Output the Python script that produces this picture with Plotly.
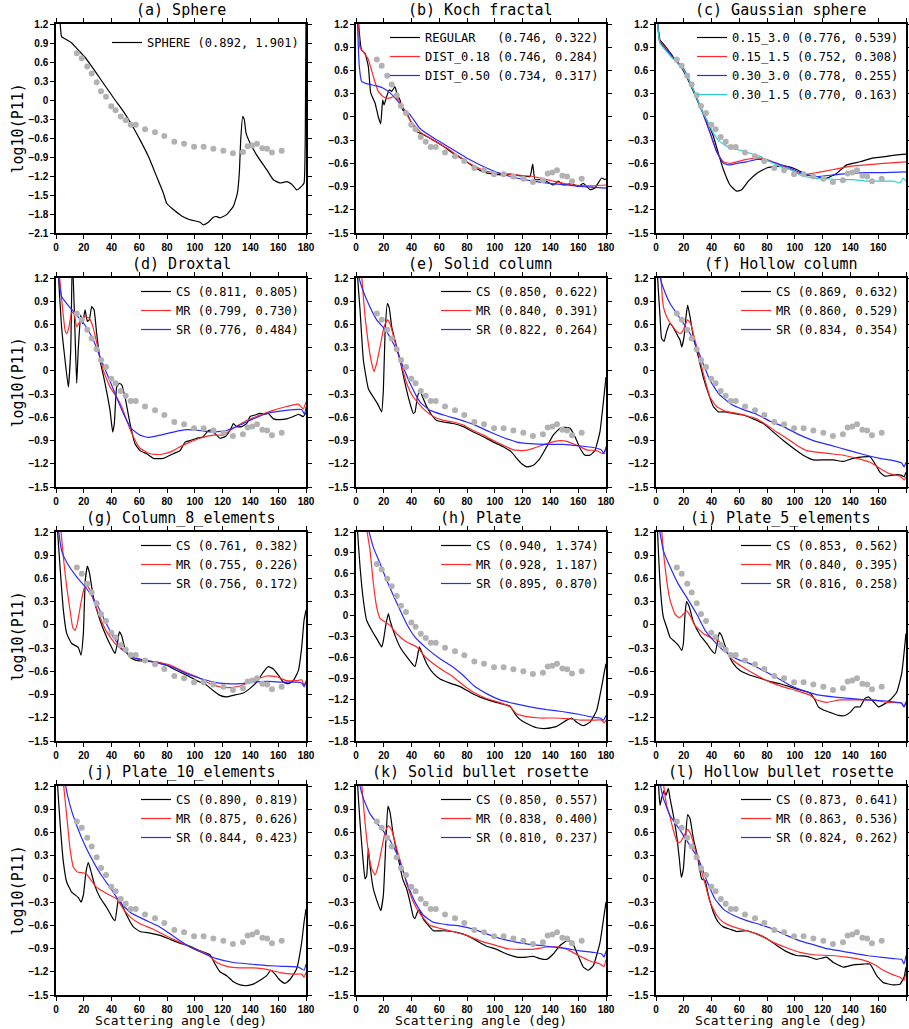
import plotly.graph_objects as go

# measured points (grey dots), identical in every panel
obs_angle = [15, 18.5, 22.5, 25.7, 29.3, 32.4, 36, 39.8, 42.9, 46.6, 50.2, 53.8, 57.4,
             64.1, 71.3, 78, 85.2, 92.2, 99.4, 106.3, 113.3, 120.5, 127.4, 134.6, 138,
             141.4, 144.7, 148.6, 152, 155.5, 162.5]
obs_logp11 = [0.74, 0.66, 0.53, 0.42, 0.28, 0.14, 0.05, -0.10, -0.16, -0.26, -0.32, -0.39,
              -0.39, -0.46, -0.51, -0.57, -0.66, -0.69, -0.74, -0.74, -0.77, -0.80, -0.84,
              -0.82, -0.73, -0.72, -0.69, -0.76, -0.77, -0.83, -0.80]

# model curves, (angle, log10 P11)
a_sphere = [(0.5, 1.6), (3, 1.2), (4, 1.0), (7.7, 0.95), (11.3, 0.9), (16, 0.79), (20.9, 0.675),
            (25.7, 0.53), (31.7, 0.34), (36.5, 0.19), (42.5, 0.0), (48.5, -0.18), (54.5, -0.39),
            (60.5, -0.63), (66.5, -0.89), (72.5, -1.21), (77.3, -1.47), (79.7, -1.63), (84.5, -1.73),
            (90.5, -1.83), (96.5, -1.89), (103.7, -1.93), (106, -1.97), (109.7, -1.93), (113.3, -1.85),
            (115.7, -1.84), (118, -1.86), (122.9, -1.81), (127.7, -1.68), (130.6, -1.47), (132, -1.15),
            (133, -0.63), (134.4, -0.26), (135.6, -0.31), (136.8, -0.52), (139.7, -0.68), (144.5, -0.87),
            (151.7, -1.1), (156.5, -1.26), (161.3, -1.31), (166, -1.29), (169.7, -1.33), (173.3, -1.42),
            (176.9, -1.36), (178.6, -1.31), (179.5, -0.52), (180, 1.3)]

b_regular = [(1, 1.6), (1.7, 1.25), (4, 0.865), (6.5, 0.82), (8.9, 0.65), (10.6, 0.31), (13.7, 0.18),
             (16, 0.005), (17.8, -0.09), (19.2, 0.22), (20.2, 0.155), (22, 0.26), (24, 0.35),
             (25.7, 0.33), (28, 0.39), (29.8, 0.28), (31.7, 0.22), (33.6, 0.09), (36.5, 0.05),
             (40, -0.08), (43.7, -0.19), (48.5, -0.23), (55.7, -0.30), (62.9, -0.38), (70, -0.47),
             (77.3, -0.55), (84.5, -0.64), (91.7, -0.71), (98.9, -0.74), (106, -0.75), (110.9, -0.74),
             (118, -0.76), (125.3, -0.77), (127.2, -0.61), (128.9, -0.81), (134.9, -0.81), (142, -0.88),
             (145.7, -0.83), (149.3, -0.88), (155.3, -0.86), (160, -0.9), (163.7, -0.86), (168.5, -0.94),
             (172, -0.92), (176.9, -0.79), (179.3, -0.81), (180, -0.80)]
b_dist018 = [(1.5, 1.6), (1.7, 1.25), (2.9, 0.89), (5.3, 0.84), (8.9, 0.74), (12.5, 0.52), (16, 0.33),
             (19.7, 0.26), (23.3, 0.24), (26.9, 0.26), (30.5, 0.22), (34, 0.11), (38.9, -0.04),
             (46, -0.19), (55.7, -0.30), (67.7, -0.43), (79.7, -0.58), (91.7, -0.69), (103.7, -0.73),
             (115.7, -0.75), (127.7, -0.77), (142, -0.83), (156.5, -0.88), (171, -0.89), (180, -0.88)]
b_dist050 = [(0.5, 1.6), (1, 1.25), (2.4, 0.65), (4, 0.46), (7.7, 0.43), (14.9, 0.40), (19.7, 0.37),
             (24.5, 0.31), (29.3, 0.22), (34, 0.11), (38.9, 0.03), (46, -0.15), (55.7, -0.27),
             (67.7, -0.40), (79.7, -0.53), (91.7, -0.64), (103.7, -0.73), (115.7, -0.79), (127.7, -0.83),
             (139.7, -0.86), (151.7, -0.88), (163.7, -0.90), (180, -0.92)]

c_015_30 = [(0.5, 1.6), (1, 1.25), (2.9, 0.99), (4, 0.97), (7.7, 0.89), (11.3, 0.80), (14.9, 0.71),
            (18.5, 0.63), (22, 0.52), (26.9, 0.33), (31.7, 0.13), (36.5, -0.04), (41.3, -0.25),
            (44.9, -0.47), (48.5, -0.68), (53.3, -0.88), (58.1, -0.96), (61.7, -0.94), (66.5, -0.83),
            (72.5, -0.73), (79.7, -0.66), (86.9, -0.64), (94, -0.64), (101.3, -0.68), (108.5, -0.75),
            (115.7, -0.77), (122.9, -0.79), (130, -0.73), (137.3, -0.62), (146.9, -0.58), (156.5, -0.53),
            (166, -0.51), (173.3, -0.49), (180, -0.48)]
c_015_15 = [(0.5, 1.6), (1, 1.25), (2.9, 0.97), (7.7, 0.87), (11.3, 0.78), (19.7, 0.63), (26.9, 0.35),
            (34, 0.03), (38.9, -0.21), (43.7, -0.45), (48.5, -0.58), (53.3, -0.60), (58.1, -0.58),
            (65.3, -0.55), (72.5, -0.53), (79.7, -0.55), (86.9, -0.60), (94, -0.66), (101.3, -0.72),
            (108.5, -0.74), (115.7, -0.72), (127.7, -0.68), (139.7, -0.64), (151.7, -0.62),
            (163.7, -0.60), (180, -0.58)]
c_030_30 = [(0.5, 1.6), (1, 1.25), (2.9, 0.96), (7.7, 0.86), (11.3, 0.78), (19.7, 0.62), (26.9, 0.35),
            (34, 0.04), (38.9, -0.20), (43.7, -0.45), (48.5, -0.60), (53.3, -0.62), (58.1, -0.60),
            (65.3, -0.58), (72.5, -0.55), (79.7, -0.56), (86.9, -0.60), (94, -0.64), (101.3, -0.70),
            (108.5, -0.75), (115.7, -0.77), (127.7, -0.75), (139.7, -0.73), (151.7, -0.72),
            (163.7, -0.72), (180, -0.71)]
c_030_15 = [(0.5, 1.6), (1, 1.25), (2.9, 0.95), (11.3, 0.77), (19.7, 0.61), (26.9, 0.35), (32.9, 0.09),
            (37.7, -0.08), (41.3, -0.21), (46, -0.32), (53.3, -0.40), (60.5, -0.43), (67.7, -0.47),
            (74.9, -0.51), (82.1, -0.58), (89.3, -0.64), (96.5, -0.68), (103.7, -0.75), (113.3, -0.79),
            (122.9, -0.80), (132.5, -0.81), (142, -0.81), (151.7, -0.83), (163.7, -0.83), (171, -0.83),
            (175.7, -0.85), (178, -0.79), (180, -0.83)]

d_cs = [(1, 1.6), (1.7, 1.25), (4, 0.57), (6.5, 0.14), (8.9, -0.21), (10.6, 0.27), (11.8, 1.5),
        (13.7, 0.48), (14.9, -0.16), (16, 0.27), (17.8, 0.72), (19.2, 0.61), (20.9, 0.79), (22.6, 0.64),
        (24, 0.66), (25.7, 0.83), (27.4, 0.79), (29.3, 0.48), (31.7, 0.14), (35.3, -0.16), (38.9, -0.51),
        (40.8, -0.79), (42, -0.68), (43.7, -0.21), (45.6, -0.16), (47.3, -0.18), (49.7, -0.34),
        (53.3, -0.68), (56.9, -0.94), (60.5, -1.03), (65.3, -1.07), (70, -1.13), (77.3, -1.13),
        (84.5, -1.07), (89.3, -1.03), (92.9, -0.92), (96.5, -0.90), (101.3, -0.87), (106, -0.85),
        (109.7, -0.77), (112, -0.77), (114.5, -0.81), (118, -0.87), (121.7, -0.85), (125.3, -0.77),
        (127.7, -0.68), (130, -0.72), (133.7, -0.72), (137.3, -0.68), (139.7, -0.59), (143.3, -0.57),
        (146.9, -0.55), (150.5, -0.56), (152.9, -0.55), (156.5, -0.62), (161.3, -0.63), (166, -0.62),
        (170.9, -0.59), (174.5, -0.56), (178, -0.59), (180, -0.54)]
d_mr = [(1.5, 1.6), (2.4, 1.25), (4.8, 0.79), (6.5, 0.53), (7.7, 0.48), (9.4, 0.57), (11.3, 0.76),
        (13, 0.74), (14.9, 0.57), (17.3, 0.64), (20.9, 0.70), (24, 0.68), (26.9, 0.55), (30.5, 0.27),
        (34, 0.01), (38.9, -0.21), (43.7, -0.34), (47.3, -0.46), (50.9, -0.64), (55.7, -0.85),
        (60.5, -1.0), (67.7, -1.07), (74.9, -1.08), (82.1, -1.05), (89.3, -0.98), (96.5, -0.92),
        (103.7, -0.87), (113.3, -0.83), (120.5, -0.83), (127.7, -0.74), (137.3, -0.64), (146.9, -0.57),
        (156.5, -0.51), (166, -0.46), (174.5, -0.43), (178, -0.49), (180, -0.40)]
d_sr = [(1, 1.6), (1.7, 1.25), (4, 0.96), (7.7, 0.87), (14.9, 0.72), (20.9, 0.59), (26.9, 0.40),
        (31.7, 0.18), (36.5, -0.03), (42.5, -0.29), (48.5, -0.55), (54.5, -0.75), (60.5, -0.83),
        (66.5, -0.86), (74.9, -0.83), (84.5, -0.79), (94, -0.76), (103.7, -0.77), (113.3, -0.79),
        (122.9, -0.77), (132.5, -0.70), (142, -0.62), (151.7, -0.55), (161.3, -0.52), (170.9, -0.50),
        (176.9, -0.50), (179, -0.56), (180, -0.46)]

e_cs = [(0.5, 1.6), (1, 1.25), (2.9, 0.79), (5.3, 0.14), (8.9, -0.23), (12.5, -0.34), (15.4, -0.42),
        (17.3, -0.49), (18.5, -0.53), (19.7, -0.25), (20.9, 0.48), (22.6, 0.87), (24, 0.81), (25.7, 0.57),
        (28, 0.40), (31.7, 0.14), (35.3, -0.16), (38.9, -0.42), (41.3, -0.55), (42.5, -0.53),
        (44.2, -0.34), (46, -0.25), (48, -0.34), (50.9, -0.46), (54.5, -0.57), (58.1, -0.64),
        (62.9, -0.66), (70, -0.68), (77.3, -0.72), (84.5, -0.79), (91.7, -0.85), (98.9, -0.92),
        (106, -0.98), (112, -1.05), (115.7, -1.13), (119.3, -1.20), (122.9, -1.24), (127.7, -1.22),
        (132.5, -1.13), (137.3, -0.98), (142, -0.83), (146.9, -0.74), (150.5, -0.73), (154.1, -0.74),
        (157.7, -0.85), (161.3, -1.0), (164.9, -1.09), (168.5, -1.09), (172, -1.03), (175.7, -0.78),
        (178, -0.42), (180, -0.08)]
e_mr = [(3, 1.6), (4, 1.25), (6.5, 0.70), (8.9, 0.35), (11.3, 0.10), (13, -0.01), (14.9, 0.10),
        (17.3, 0.31), (20.2, 0.57), (22.6, 0.66), (24.5, 0.61), (28, 0.38), (31.7, 0.14), (36.5, -0.16),
        (41.3, -0.34), (48.5, -0.49), (55.7, -0.59), (62.9, -0.64), (70, -0.66), (77.3, -0.70),
        (84.5, -0.77), (91.7, -0.83), (98.9, -0.90), (106, -0.96), (113.3, -1.02), (120.5, -1.03),
        (127.7, -1.0), (137.3, -0.94), (146.9, -0.90), (151.7, -0.91), (158.9, -0.96), (166, -1.02),
        (173.3, -1.03), (178, -1.07), (180, -1.0)]
e_sr = [(1, 1.6), (1.7, 1.25), (4, 1.09), (7.7, 0.92), (14.9, 0.66), (22, 0.51), (29.3, 0.27),
        (34, 0.05), (38.9, -0.16), (46, -0.40), (53.3, -0.51), (62.9, -0.57), (72.5, -0.62),
        (79.7, -0.66), (86.9, -0.71), (96.5, -0.79), (106, -0.86), (115.7, -0.92), (125.3, -0.94),
        (137.3, -0.95), (149.3, -0.95), (161.3, -0.97), (170.9, -0.99), (176.5, -1.02), (178.6, -1.07),
        (180, -0.98)]

f_cs = [(0.5, 1.6), (1, 1.25), (2.9, 0.70), (4, 0.42), (5.8, 0.38), (7.7, 0.51), (10.1, 0.61),
        (12.5, 0.56), (15.4, 0.46), (17.3, 0.40), (18.5, 0.31), (20.2, 0.44), (21.6, 0.70), (22.8, 0.85),
        (24.5, 0.70), (26.9, 0.44), (30.5, 0.18), (34, -0.08), (37.7, -0.29), (41.3, -0.46),
        (44.9, -0.53), (49.7, -0.53), (55.7, -0.55), (62.9, -0.57), (70, -0.62), (77.3, -0.68),
        (84.5, -0.79), (91.7, -0.90), (98.9, -1.0), (106, -1.09), (113.3, -1.15), (120.5, -1.15),
        (127.7, -1.15), (134.9, -1.17), (142, -1.13), (149.3, -1.11), (154.1, -1.11), (157.7, -1.20),
        (161.3, -1.31), (164.9, -1.36), (169.7, -1.35), (173.3, -1.34), (176.9, -1.35), (178.6, -1.37),
        (180, -1.31)]
f_mr = [(2.5, 1.6), (3.4, 1.25), (5.3, 0.83), (7.7, 0.70), (11.3, 0.59), (14.9, 0.51), (17.3, 0.48),
        (19.7, 0.53), (22.6, 0.66), (25, 0.61), (28, 0.40), (31.7, 0.14), (35.3, -0.12), (38.9, -0.34),
        (43.7, -0.46), (49.7, -0.52), (58.1, -0.55), (65.3, -0.58), (72.5, -0.62), (79.7, -0.70),
        (86.9, -0.79), (94, -0.87), (101.3, -0.96), (108.5, -1.03), (115.7, -1.05), (125.3, -1.07),
        (134.9, -1.09), (144.5, -1.13), (154.1, -1.18), (161.3, -1.26), (168.5, -1.33), (175.7, -1.36),
        (178.6, -1.41), (180, -1.37)]
f_sr = [(1.5, 1.6), (2.4, 1.25), (5.3, 1.07), (10.1, 0.87), (17.3, 0.68), (24.5, 0.48), (29.3, 0.31),
        (34, 0.09), (38.9, -0.12), (44.9, -0.29), (53.3, -0.42), (62.9, -0.50), (72.5, -0.56),
        (82.1, -0.65), (91.7, -0.72), (101.3, -0.81), (113.3, -0.90), (125.3, -0.96), (137.3, -1.02),
        (149.3, -1.08), (161.3, -1.13), (170.9, -1.16), (176.9, -1.19), (178.6, -1.24), (180, -1.18)]

g_cs = [(0.5, 1.6), (1, 1.25), (2.9, 0.75), (5.3, 0.19), (7.7, -0.11), (11.3, -0.24), (16, -0.29),
        (18, -0.39), (19.7, -0.11), (21.1, 0.58), (22.6, 0.76), (24, 0.68), (26.9, 0.36), (31.7, 0.06),
        (36.5, -0.16), (40, -0.29), (42.5, -0.37), (44.2, -0.24), (45.6, -0.09), (47.3, -0.14),
        (49.7, -0.31), (53.3, -0.42), (58.1, -0.46), (65.3, -0.47), (72.5, -0.48), (79.7, -0.52),
        (86.9, -0.59), (94, -0.65), (101.3, -0.72), (108.5, -0.78), (113.3, -0.85), (118, -0.91),
        (122.9, -0.93), (127.7, -0.91), (134.9, -0.88), (139.7, -0.82), (144.5, -0.74), (149.3, -0.61),
        (152.9, -0.54), (156.5, -0.57), (160.1, -0.65), (163.7, -0.74), (167.3, -0.76), (170.9, -0.72),
        (174.5, -0.59), (176.9, -0.29), (178.6, 0.06), (180, 0.19)]
g_mr = [(2.5, 1.6), (3.4, 1.25), (5.8, 0.79), (7.7, 0.49), (10.1, 0.19), (12, -0.03), (13.7, -0.07),
        (15.4, 0.02), (17.8, 0.27), (20.2, 0.47), (22, 0.51), (24.5, 0.45), (28, 0.27), (31.7, 0.10),
        (36.5, -0.09), (42.5, -0.24), (48.5, -0.33), (55.7, -0.42), (62.9, -0.46), (72.5, -0.48),
        (82.1, -0.52), (91.7, -0.60), (101.3, -0.67), (110.9, -0.76), (118, -0.80), (125.3, -0.81),
        (132.5, -0.79), (142, -0.72), (151.7, -0.66), (158.9, -0.67), (166, -0.72), (173.3, -0.72),
        (176.9, -0.71), (178.6, -0.78), (180, -0.72)]
g_sr = [(1, 1.6), (1.7, 1.25), (4, 0.96), (7.7, 0.81), (14.9, 0.62), (22, 0.47), (29.3, 0.27),
        (34, 0.10), (41.3, -0.16), (48.5, -0.33), (55.7, -0.42), (65.3, -0.46), (74.9, -0.50),
        (84.5, -0.55), (94, -0.63), (103.7, -0.69), (113.3, -0.74), (122.9, -0.76), (132.5, -0.76),
        (142, -0.74), (151.7, -0.73), (163.7, -0.74), (173.3, -0.74), (176.9, -0.75), (178.6, -0.80),
        (180, -0.74)]

h_cs = [(0.5, 1.6), (1, 1.25), (2.9, 0.70), (5.3, 0.22), (7.7, -0.07), (11.3, -0.21), (14.9, -0.33),
        (18.5, -0.45), (19.7, -0.36), (21.6, -0.12), (23.3, 0.03), (24.5, -0.07), (28, -0.28),
        (31.7, -0.45), (36.5, -0.59), (41.3, -0.71), (42.5, -0.73), (44.2, -0.59), (45.6, -0.45),
        (47.3, -0.52), (50.9, -0.69), (55.7, -0.83), (60.5, -0.91), (67.7, -0.97), (74.9, -1.02),
        (82.1, -1.10), (89.3, -1.17), (96.5, -1.22), (103.7, -1.26), (110.9, -1.30), (114.5, -1.41),
        (118, -1.49), (122.9, -1.55), (130, -1.61), (137.3, -1.62), (144.5, -1.59), (151.7, -1.50),
        (155.3, -1.47), (158.9, -1.53), (163.7, -1.58), (168.5, -1.53), (173.3, -1.36), (176.9, -1.02),
        (178.6, -0.83), (180, -0.69)]
h_mr = [(7, 1.6), (7.7, 1.25), (10.1, 0.94), (12.5, 0.46), (14.9, 0.12), (17.3, -0.04), (20.9, -0.09),
        (24.5, -0.14), (29.3, -0.26), (36.5, -0.38), (43.7, -0.45), (49.7, -0.59), (55.7, -0.69),
        (62.9, -0.79), (70, -0.88), (77.3, -1.0), (84.5, -1.10), (94, -1.19), (103.7, -1.25),
        (110.9, -1.31), (115.7, -1.41), (122.9, -1.45), (132.5, -1.47), (142, -1.47), (151.7, -1.48),
        (161.3, -1.50), (170.9, -1.50), (176.9, -1.50), (178.6, -1.54), (180, -1.50)]
h_sr = [(8, 1.6), (8.9, 1.25), (12.5, 0.98), (17.3, 0.75), (22, 0.51), (26.9, 0.29), (31.7, 0.08),
        (36.5, -0.12), (42.5, -0.31), (50.9, -0.47), (60.5, -0.62), (70, -0.74), (77.3, -0.86),
        (84.5, -1.0), (94, -1.12), (103.7, -1.21), (113.3, -1.26), (125.3, -1.31), (137.3, -1.35),
        (149.3, -1.38), (161.3, -1.42), (170.9, -1.46), (175.7, -1.47), (178.2, -1.50), (180, -1.43)]

i_cs = [(0.5, 1.6), (1, 1.25), (2.9, 0.53), (5.3, 0.10), (7.7, -0.03), (10.1, -0.16), (13.7, -0.22),
        (16, -0.26), (18.5, -0.33), (19.7, -0.24), (20.9, 0.14), (22, 0.30), (24, 0.23), (26.9, 0.04),
        (31.7, -0.13), (36.5, -0.24), (40, -0.33), (42.5, -0.37), (44.2, -0.22), (45.6, -0.10),
        (47.3, -0.14), (50.9, -0.33), (55.7, -0.50), (60.5, -0.59), (67.7, -0.65), (74.9, -0.69),
        (82.1, -0.73), (89.3, -0.76), (96.5, -0.80), (103.7, -0.84), (110.9, -0.88), (114.5, -0.97),
        (116.9, -1.06), (120.5, -1.10), (125.3, -1.13), (131.3, -1.17), (136.1, -1.17), (139.7, -1.13),
        (143.3, -1.06), (146.9, -1.06), (150.5, -0.95), (152.9, -0.93), (156.5, -0.99), (160.1, -1.06),
        (163.7, -1.03), (168.5, -0.97), (173.3, -0.87), (176.9, -0.63), (180, -0.11)]
i_mr = [(3, 1.6), (4, 1.25), (6.5, 0.75), (10.1, 0.32), (13.7, 0.14), (16.8, 0.09), (19.7, 0.14),
        (22, 0.18), (24.5, 0.12), (28, -0.01), (34, -0.11), (41.3, -0.18), (46, -0.22), (50.9, -0.35),
        (55.7, -0.46), (62.9, -0.55), (72.5, -0.65), (82.1, -0.74), (91.7, -0.80), (101.3, -0.85),
        (110.9, -0.91), (115.7, -0.97), (122.9, -1.0), (132.5, -0.97), (144.5, -0.97), (156.5, -0.97),
        (166, -1.0), (176.5, -1.01), (178.6, -1.06), (180, -1.0)]
i_sr = [(1.5, 1.6), (2.4, 1.25), (5.3, 0.96), (10.1, 0.75), (16, 0.53), (23.3, 0.32), (29.3, 0.14),
        (35.3, -0.07), (41.3, -0.20), (48.5, -0.33), (58.1, -0.44), (67.7, -0.50), (77.3, -0.59),
        (86.9, -0.68), (96.5, -0.78), (106, -0.85), (115.7, -0.90), (127.7, -0.93), (139.7, -0.95),
        (151.7, -0.97), (163.7, -0.98), (173.3, -1.0), (176.9, -1.01), (178.6, -1.06), (180, -0.99)]

j_cs = [(0.5, 1.6), (1, 1.25), (2.9, 0.73), (5.3, 0.22), (7.7, -0.04), (11.3, -0.17), (16, -0.24),
        (18, -0.30), (19.7, -0.21), (21.6, 0.09), (23.3, 0.21), (25, 0.11), (28, -0.09), (31.7, -0.24),
        (36.5, -0.37), (41.3, -0.52), (42.5, -0.54), (44.2, -0.34), (45.2, -0.24), (46.6, -0.30),
        (50.9, -0.47), (55.7, -0.62), (60.5, -0.68), (67.7, -0.70), (74.9, -0.73), (82.1, -0.78),
        (89.3, -0.83), (96.5, -0.87), (103.7, -0.93), (110.9, -0.98), (114.5, -1.10), (118, -1.20),
        (122.9, -1.25), (127.7, -1.33), (132.5, -1.37), (137.3, -1.38), (142, -1.36), (146.9, -1.31),
        (151.7, -1.25), (154.6, -1.18), (157.7, -1.23), (161.3, -1.31), (164.9, -1.35), (168.5, -1.30),
        (173.3, -1.16), (176.9, -0.82), (178.6, -0.56), (180, -0.39)]
j_mr = [(4.5, 1.6), (5.3, 1.25), (7.7, 0.82), (10.1, 0.39), (12.5, 0.15), (15.4, 0.09), (18.5, 0.08),
        (21.6, 0.07), (24.5, 0.0), (29.3, -0.11), (36.5, -0.19), (43.7, -0.26), (48.5, -0.39),
        (53.3, -0.49), (60.5, -0.58), (70, -0.65), (79.7, -0.74), (89.3, -0.82), (98.9, -0.90),
        (108.5, -0.97), (115.7, -1.08), (122.9, -1.13), (132.5, -1.15), (142, -1.15), (151.7, -1.17),
        (161.3, -1.21), (170.9, -1.23), (176.9, -1.23), (178.6, -1.27), (180, -1.21)]
j_sr = [(5, 1.6), (6.5, 1.25), (10.1, 0.95), (14.9, 0.69), (20.9, 0.43), (26.9, 0.22), (32.9, 0.04),
        (38.9, -0.11), (46, -0.30), (53.3, -0.43), (62.9, -0.52), (72.5, -0.60), (79.7, -0.68),
        (86.9, -0.77), (96.5, -0.88), (106, -0.96), (115.7, -1.03), (127.7, -1.08), (139.7, -1.10),
        (151.7, -1.12), (163.7, -1.13), (174.5, -1.14), (178.6, -1.18), (180, -1.10)]

k_cs = [(0.5, 1.6), (1, 1.25), (2.9, 0.73), (4.8, 0.30), (6.5, 0.0), (7.7, 0.04), (8.9, 0.39),
        (10.1, 0.17), (12.5, -0.13), (15.4, -0.30), (17.8, -0.41), (19.7, -0.21), (21.6, 0.52),
        (23, 0.94), (24.5, 0.86), (26.9, 0.56), (30.5, 0.26), (33.6, 0.0), (36.5, -0.13), (38.9, -0.30),
        (41.3, -0.49), (42.5, -0.51), (44.2, -0.43), (45.6, -0.40), (48.5, -0.52), (52.1, -0.60),
        (55.7, -0.67), (62.9, -0.67), (72.5, -0.69), (79.7, -0.73), (86.9, -0.80), (94, -0.87),
        (101.3, -0.91), (108.5, -0.97), (115.7, -1.01), (122.9, -1.01), (127.7, -1.0), (132.5, -1.03),
        (137.3, -1.04), (142, -0.97), (146.9, -0.86), (151.7, -0.80), (155.3, -0.81), (158.9, -0.95),
        (163.7, -1.14), (167.3, -1.18), (170.9, -1.12), (175.7, -0.82), (178.6, -0.47), (180, -0.30)]
k_mr = [(3, 1.6), (4, 1.25), (6.5, 0.73), (8.9, 0.35), (11.3, 0.13), (13.7, 0.05), (16, 0.17),
        (18.5, 0.39), (20.9, 0.60), (23.3, 0.69), (25.7, 0.63), (29.3, 0.39), (32.9, 0.17), (36.5, -0.06),
        (41.3, -0.30), (46, -0.45), (53.3, -0.60), (60.5, -0.64), (70, -0.68), (79.7, -0.73),
        (89.3, -0.80), (98.9, -0.85), (108.5, -0.90), (118, -0.91), (127.7, -0.91), (137.3, -0.88),
        (146.9, -0.88), (154.1, -0.93), (161.3, -1.0), (168.5, -1.06), (175.7, -1.10), (178.6, -1.13),
        (180, -1.04)]
k_sr = [(1.5, 1.6), (2.4, 1.25), (5.3, 1.04), (10.1, 0.84), (17.3, 0.67), (24.5, 0.50), (30.5, 0.28),
        (36.5, -0.04), (42.5, -0.30), (48.5, -0.47), (55.7, -0.56), (65.3, -0.59), (74.9, -0.61),
        (84.5, -0.65), (94, -0.71), (103.7, -0.77), (113.3, -0.81), (122.9, -0.84), (132.5, -0.86),
        (142, -0.88), (151.7, -0.90), (161.3, -0.93), (170.9, -0.95), (176.9, -0.97), (178.6, -1.01),
        (180, -0.93)]

l_cs = [(1, 1.6), (1.7, 1.25), (2.9, 0.95), (4, 1.04), (5.8, 1.14), (7.2, 1.08), (8.9, 1.17),
        (10.1, 1.04), (12.5, 0.82), (14.9, 0.56), (16.8, 0.26), (18.2, 0.02), (19.7, 0.13), (21.1, 0.48),
        (22.8, 0.83), (24.5, 0.78), (26.9, 0.52), (29.8, 0.30), (32.9, 0.0), (35.3, -0.02), (37.7, -0.21),
        (41.3, -0.43), (44.9, -0.56), (48.5, -0.62), (53.3, -0.65), (58.1, -0.68), (65.3, -0.67),
        (72.5, -0.71), (79.7, -0.77), (86.9, -0.86), (94, -0.94), (101.3, -0.99), (108.5, -1.0),
        (115.7, -1.04), (122.9, -1.01), (127.7, -1.08), (134.9, -1.14), (142, -1.11), (149.3, -1.10),
        (154.1, -1.10), (158.9, -1.25), (163.7, -1.34), (170.9, -1.37), (175.7, -1.36), (178.6, -1.27),
        (180, -1.14)]
l_mr = [(4.5, 1.6), (5.3, 1.25), (7.7, 0.95), (10.1, 0.80), (12.5, 0.63), (15.4, 0.47), (17.8, 0.48),
        (20.2, 0.56), (22.8, 0.64), (25, 0.58), (28, 0.39), (31.7, 0.17), (35.3, -0.06), (38.9, -0.30),
        (43.7, -0.47), (48.5, -0.56), (55.7, -0.62), (65.3, -0.67), (74.9, -0.73), (84.5, -0.82),
        (94, -0.89), (103.7, -0.95), (113.3, -0.98), (125.3, -0.99), (137.3, -1.01), (149.3, -1.05),
        (156.5, -1.10), (163.7, -1.18), (170.9, -1.24), (175.7, -1.27), (178.6, -1.31), (180, -1.20)]
l_sr = [(2, 1.6), (2.9, 1.25), (5.3, 1.04), (10.1, 0.82), (17.3, 0.63), (24.5, 0.43), (30.5, 0.26),
        (36.5, -0.02), (42.5, -0.26), (48.5, -0.39), (55.7, -0.47), (65.3, -0.54), (74.9, -0.59),
        (84.5, -0.65), (94, -0.73), (103.7, -0.80), (113.3, -0.85), (122.9, -0.90), (132.5, -0.93),
        (142, -0.96), (151.7, -0.99), (161.3, -1.01), (170.9, -1.03), (176.9, -1.04), (178.6, -1.10),
        (180, -0.99)]

BLACK, RED, BLUE, CYAN = "#000000", "#ff2a2a", "#2a2aff", "#2ccfcf"
NB = "\u00a0"

panels = [
    ("(a) Sphere", -2.1, [("SPHERE (0.892, 1.901)", a_sphere, BLACK)]),
    ("(b) Koch fractal", -1.5, [("REGULAR" + NB * 3 + "(0.746, 0.322)", b_regular, BLACK),
                                ("DIST_0.18 (0.746, 0.284)", b_dist018, RED),
                                ("DIST_0.50 (0.734, 0.317)", b_dist050, BLUE)]),
    ("(c) Gaussian sphere", -1.5, [("0.15_3.0 (0.776, 0.539)", c_015_30, BLACK),
                                   ("0.15_1.5 (0.752, 0.308)", c_015_15, RED),
                                   ("0.30_3.0 (0.778, 0.255)", c_030_30, BLUE),
                                   ("0.30_1.5 (0.770, 0.163)", c_030_15, CYAN)]),
    ("(d) Droxtal", -1.5, [("CS (0.811, 0.805)", d_cs, BLACK), ("MR (0.799, 0.730)", d_mr, RED),
                           ("SR (0.776, 0.484)", d_sr, BLUE)]),
    ("(e) Solid column", -1.5, [("CS (0.850, 0.622)", e_cs, BLACK), ("MR (0.840, 0.391)", e_mr, RED),
                                ("SR (0.822, 0.264)", e_sr, BLUE)]),
    ("(f) Hollow column", -1.5, [("CS (0.869, 0.632)", f_cs, BLACK), ("MR (0.860, 0.529)", f_mr, RED),
                                 ("SR (0.834, 0.354)", f_sr, BLUE)]),
    ("(g) Column_8_elements", -1.5, [("CS (0.761, 0.382)", g_cs, BLACK), ("MR (0.755, 0.226)", g_mr, RED),
                                     ("SR (0.756, 0.172)", g_sr, BLUE)]),
    ("(h) Plate", -1.8, [("CS (0.940, 1.374)", h_cs, BLACK), ("MR (0.928, 1.187)", h_mr, RED),
                         ("SR (0.895, 0.870)", h_sr, BLUE)]),
    ("(i) Plate_5_elements", -1.5, [("CS (0.853, 0.562)", i_cs, BLACK), ("MR (0.840, 0.395)", i_mr, RED),
                                    ("SR (0.816, 0.258)", i_sr, BLUE)]),
    ("(j) Plate_10_elements", -1.5, [("CS (0.890, 0.819)", j_cs, BLACK), ("MR (0.875, 0.626)", j_mr, RED),
                                     ("SR (0.844, 0.423)", j_sr, BLUE)]),
    ("(k) Solid bullet rosette", -1.5, [("CS (0.850, 0.557)", k_cs, BLACK), ("MR (0.838, 0.400)", k_mr, RED),
                                        ("SR (0.810, 0.237)", k_sr, BLUE)]),
    ("(l) Hollow bullet rosette", -1.5, [("CS (0.873, 0.641)", l_cs, BLACK), ("MR (0.863, 0.536)", l_mr, RED),
                                         ("SR (0.824, 0.262)", l_sr, BLUE)]),
]

W, H = 909, 1029
cols_px = [(56, 306), (356, 606), (656, 906)]
rows_px = [(24, 233), (278, 487), (532, 741), (786, 995)]
MONO = "DejaVu Sans Mono"

fig = go.Figure()
layout = dict(width=W, height=H, margin=dict(l=0, r=0, t=0, b=0, pad=0, autoexpand=False),
              paper_bgcolor="white", plot_bgcolor="white", annotations=[])

for k, (title, ymin, curves) in enumerate(panels):
    n = k + 1
    r, c = divmod(k, 3)
    x0, x1 = cols_px[c][0] / W, cols_px[c][1] / W
    y1, y0 = 1 - rows_px[r][0] / H, 1 - rows_px[r][1] / H
    xa, ya = ("x", "y") if n == 1 else (f"x{n}", f"y{n}")
    lg = "legend" if n == 1 else f"legend{n}"

    for name, pts, color in curves:
        fig.add_trace(go.Scatter(
            x=[p[0] for p in pts], y=[p[1] for p in pts], mode="lines", name=name,
            line=dict(color=color, width=1.2, shape="spline", smoothing=0.4),
            xaxis=xa, yaxis=ya, legend=lg))
    fig.add_trace(go.Scatter(
        x=obs_angle, y=obs_logp11, mode="markers", showlegend=False,
        marker=dict(color="#b2b2b2", size=6), xaxis=xa, yaxis=ya))

    axis_common = dict(showline=True, linecolor="black", linewidth=1.5, mirror="ticks",
                       ticks="outside", ticklen=4, tickwidth=1, tickcolor="black",
                       showgrid=False, zeroline=False, automargin=False,
                       tickfont=dict(family="Liberation Sans", size=10, color="black", weight="bold"))
    layout["xaxis" if n == 1 else f"xaxis{n}"] = dict(
        domain=[x0, x1], range=[0, 180], tick0=0, dtick=20, anchor=ya, **axis_common)
    layout["yaxis" if n == 1 else f"yaxis{n}"] = dict(
        domain=[y0, y1], range=[ymin, 1.2], tick0=0, dtick=0.3, anchor=xa, **axis_common)
    layout[lg] = dict(x=x1 - 2 / W, y=y1 - (4 if n == 1 else -1) / H,
                      xanchor="right", yanchor="top",
                      bgcolor="rgba(0,0,0,0)", borderwidth=0,
                      font=dict(family=MONO, size=12, color="black"))

    layout["annotations"].append(dict(
        text=title, x=(x0 + x1) / 2, y=y1, xref="paper", yref="paper", xanchor="center",
        yanchor="bottom", yshift=3, showarrow=False, font=dict(family=MONO, size=15, color="black")))
    if c == 0:
        layout["annotations"].append(dict(
            text="log10(P11)", x=17 / W, y=(y0 + y1) / 2, xref="paper", yref="paper",
            xanchor="center", yanchor="middle", textangle=-90, showarrow=False,
            font=dict(family=MONO, size=15, color="black")))
    if r == 3:
        layout["annotations"].append(dict(
            text="Scattering angle (deg)", x=(x0 + x1) / 2, y=1 - 1020 / H, xref="paper",
            yref="paper", xanchor="center", yanchor="middle", showarrow=False,
            font=dict(family=MONO, size=13, color="black")))

fig.update_layout(**layout)
fig.write_html(
    "out.html",
    config={"displayModeBar": False},
    post_script=("document.documentElement.style.margin='0px';"
                 "document.body.style.margin='0px';"
                 "document.documentElement.style.overflow='hidden';"
                 "document.body.style.overflow='hidden';"),
)
